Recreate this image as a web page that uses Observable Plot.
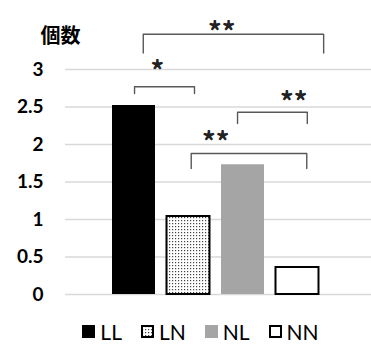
<!DOCTYPE html>
<html>
<head>
<meta charset="utf-8">
<script src="https://cdn.jsdelivr.net/npm/d3@7"></script>
<script src="https://cdn.jsdelivr.net/npm/@observablehq/plot@0.6"></script>
<style>
  html, body { margin: 0; padding: 0; background: #fff; }
  #chart { width: 371px; }
  .legend { display: flex; justify-content: center; align-items: center; gap: 19px; height: 37px;
            padding-top: 6px; box-sizing: border-box;
            font-family: Lato, "Open Sans", sans-serif; font-size: 21px; color: #000; margin-left: 30px; }
  .legend .item { display: flex; align-items: center; }
  .legend svg { margin-right: 5px; }
</style>
</head>
<body>
<div id="chart"></div>
<script>
// ---- data ----
const categories = ["LL", "LN", "NL", "NN"];
const values = [2.52, 1.04, 1.73, 0.36];
const yTicks = [0, 0.5, 1, 1.5, 2, 2.5, 3];
const yLabel = "個数";
// significance brackets (x in category-index units, y in data units)
const bracketLabels = ["*", "**", "**", "**"];
const bracketX1 = [0.51, 0.67, 2.40, 1.55];
const bracketX2 = [1.61, 3.98, 3.68, 3.67];
const bracketY = [2.77, 3.47, 2.43, 1.88];
const bracketDrop = [0.09, 0.25, 0.15, 0.20];
const labelX = [0.93, 2.11, 3.43, 2.00];
const labelY = [3.03, 3.55, 2.61, 2.08];

// ---- styles ----
const fillOf = {LL: "#000000", LN: "url(#dots)", NL: "#a5a5a5", NN: "#ffffff"};
const strokeOf = {LL: "none", LN: "#000000", NL: "none", NN: "#000000"};

const bars = categories.map((c, i) => ({cat: c, i, value: values[i]}));
const bracketPts = bracketLabels.flatMap((l, k) => [
  {k, x: bracketX1[k], y: bracketY[k] - bracketDrop[k]},
  {k, x: bracketX1[k], y: bracketY[k]},
  {k, x: bracketX2[k], y: bracketY[k]},
  {k, x: bracketX2[k], y: bracketY[k] - bracketDrop[k]}
]);
const labels = bracketLabels.map((l, k) => ({label: l, x: labelX[k], y: labelY[k]}));

const plot = Plot.plot({
  width: 371,
  height: 310,
  marginLeft: 65,
  marginRight: 0,
  marginTop: 9,
  marginBottom: 16,
  style: {fontFamily: "Lato, 'Open Sans', sans-serif", background: "#fff"},
  x: {type: "linear", domain: [-0.757, 4.858], axis: null},
  y: {domain: [0, 3.8], axis: null},
  marks: [
    Plot.ruleY(yTicks, {stroke: "#d9d9d9", strokeWidth: 1.4}),
    Plot.rectY(bars, {
      x1: d => d.i, x2: d => d.i + 1, y1: 0, y2: "value",
      insetLeft: 5.75, insetRight: 5.75,
      fill: d => fillOf[d.cat], stroke: d => strokeOf[d.cat], strokeWidth: 2
    }),
    Plot.axisY({ticks: yTicks, tickSize: 0, tickPadding: 22, fontSize: 19, fontWeight: "bold",
                tickFormat: d => String(d), fill: "#000"}),
    Plot.line(bracketPts, {x: "x", y: "y", z: "k", stroke: "#595959", strokeWidth: 1.4, curve: "linear"}),
    Plot.text(labels, {x: "x", y: "y", text: "label", fontSize: 27, fill: "#222", fontWeight: "bold",
                       dy: 5, fontFamily: "'Noto Sans CJK JP', sans-serif"}),
    Plot.text([yLabel], {frameAnchor: "top-left", dx: -5, dy: 19, textAnchor: "middle",
                         fontSize: 20, fontWeight: "bold", fill: "#000",
                         fontFamily: "'Noto Sans CJK JP', sans-serif"})
  ]
});

// pattern defs for the dotted fill
const ns = "http://www.w3.org/2000/svg";
function addPattern(svg) {
  const defs = document.createElementNS(ns, "defs");
  defs.innerHTML = `<pattern id="dots" width="3" height="3" patternUnits="userSpaceOnUse">
      <rect width="3" height="3" fill="#fff"/>
      <rect x="1" y="1" width="1.2" height="1.2" fill="#444"/>
    </pattern>`;
  svg.insertBefore(defs, svg.firstChild);
}
addPattern(plot);
document.getElementById("chart").appendChild(plot);

// legend
const legend = document.createElement("div");
legend.className = "legend";
categories.forEach(c => {
  const item = document.createElement("div");
  item.className = "item";
  const sw = document.createElementNS(ns, "svg");
  sw.setAttribute("width", 13); sw.setAttribute("height", 13);
  const r = document.createElementNS(ns, "rect");
  const s = strokeOf[c] !== "none";
  r.setAttribute("x", s ? 1 : 0); r.setAttribute("y", s ? 1 : 0);
  r.setAttribute("width", s ? 11 : 13); r.setAttribute("height", s ? 11 : 13);
  r.setAttribute("fill", fillOf[c]);
  if (s) { r.setAttribute("stroke", strokeOf[c]); r.setAttribute("stroke-width", 2); }
  sw.appendChild(r);
  const span = document.createElement("span");
  span.textContent = c;
  item.appendChild(sw); item.appendChild(span);
  legend.appendChild(item);
});
document.getElementById("chart").appendChild(legend);
</script>
</body>
</html>
